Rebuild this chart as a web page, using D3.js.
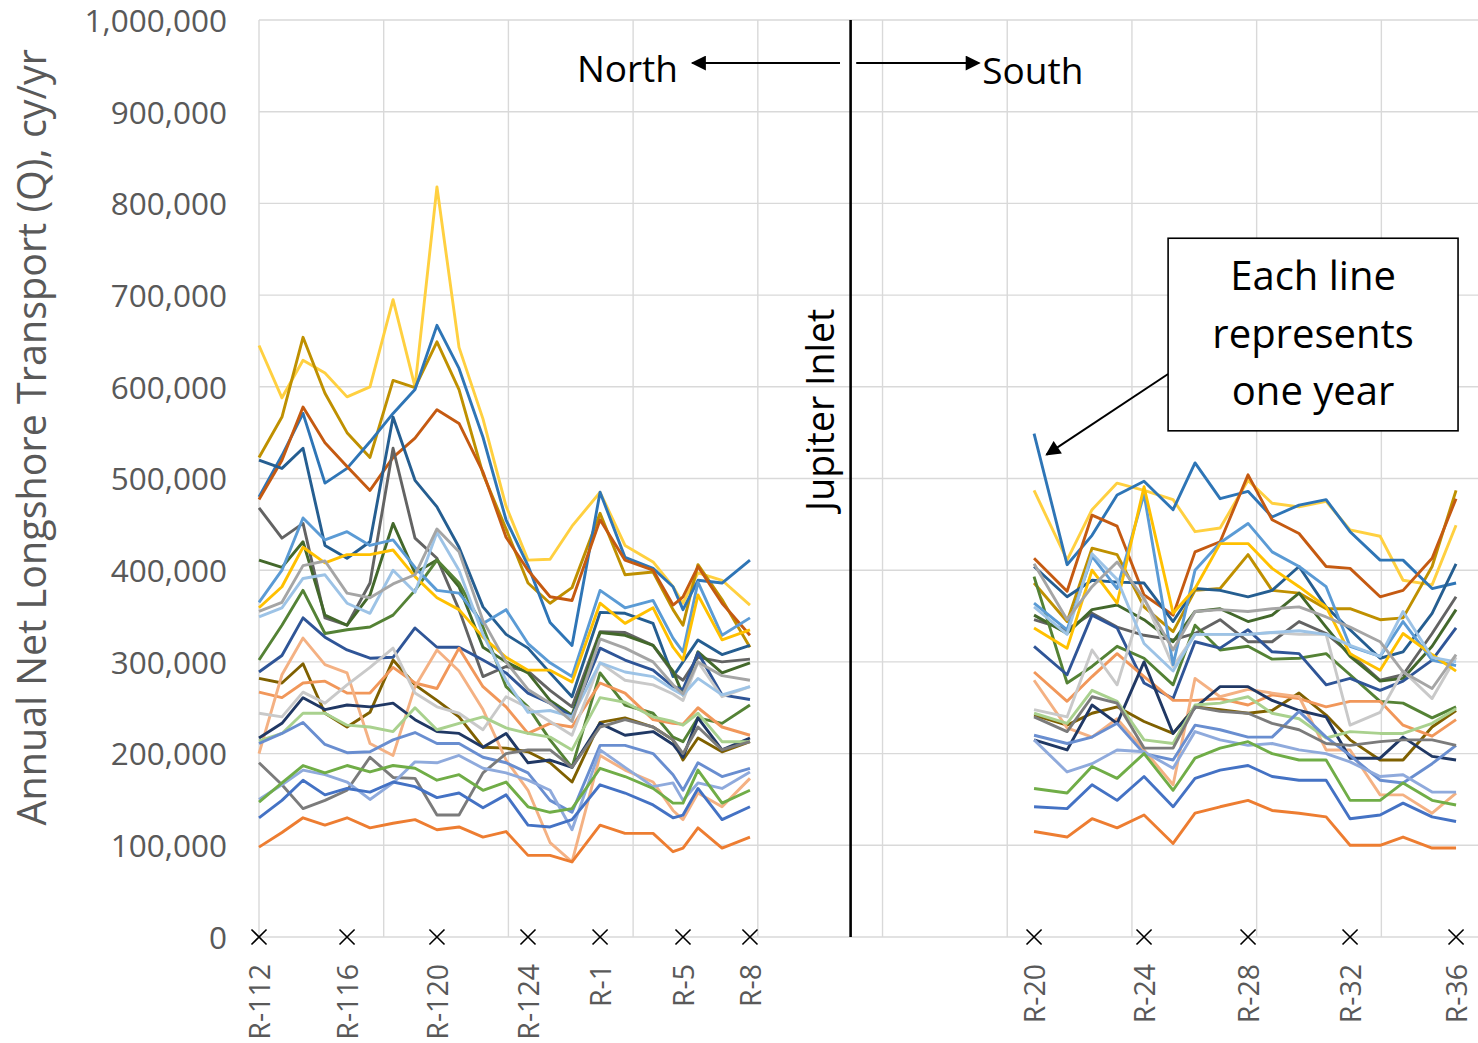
<!DOCTYPE html>
<html>
<head>
<meta charset="utf-8">
<script src="https://cdn.jsdelivr.net/npm/d3@7"></script>
<style>
	body { margin: 0; background: #fff; }
	svg { display: block; font-family: 'Open Sans', sans-serif; }
</style>
</head>
<body>
<svg></svg>
<script>
// monuments north of the inlet and their alongshore position (chart units)
const northStations = ['R-112', 'R-113', 'R-114', 'R-115', 'R-116', 'R-117', 'R-118', 'R-119', 'R-120', 'R-121', 'R-122', 'R-123',
	'R-124', 'R-125', 'R-126', 'R-1', 'R-2', 'R-3', 'R-4', 'R-5', 'R-6', 'R-7', 'R-8']
const northPos = [0, 1.84, 3.53, 5.29, 7.06, 8.9, 10.75, 12.51, 14.27, 16.04, 17.96, 19.81,
	21.57, 23.34, 25.1, 27.35, 29.35, 31.6, 33.2, 34.0, 35.2, 37.13, 39.37]

// monuments south of the inlet
const southStations = ['R-20', 'R-21', 'R-22', 'R-23', 'R-24', 'R-25', 'R-26', 'R-27', 'R-28', 'R-29', 'R-30', 'R-31',
	'R-32', 'R-33', 'R-34', 'R-35', 'R-36']
const southPos = [62.15, 64.8, 66.8, 68.81, 70.97, 73.3, 75.06, 77.07, 79.31, 81.24, 83.4, 85.57,
	87.49, 89.9, 91.74, 94.07, 95.99]

const tickStations = ['R-112', 'R-116', 'R-120', 'R-124', 'R-1', 'R-5', 'R-8', 'R-20', 'R-24', 'R-28', 'R-32', 'R-36']
const inletPos = 47.44

// one line per year, Q in thousand cy/yr
const lineColors = ['#FFD040', '#BF9000', '#2E75B6', '#C55A11', '#255E91', '#636363', '#43682B', '#548235',
	'#2F5597', '#7F6000', '#F1975A', '#F4B183', '#C9C9C9', '#203864', '#A9D18E', '#698ED0', '#7B7B7B',
	'#8FAADC', '#70AD47', '#4472C4', '#ED7D31', '#5B9BD5', '#FFC000', '#9DC3E6', '#A5A5A5']

const northQ = [
	[645, 588, 629, 615, 589, 600, 695, 600, 818, 643, 565, 470, 411, 412, 448, 485, 427, 409, 382, 364, 397, 389, 362],
	[523, 567, 654, 593, 550, 523, 607, 599, 649, 597, 505, 445, 386, 364, 381, 462, 395, 398, 357, 340, 406, 368, 316],
	[480, 525, 571, 495, 511, 540, 571, 597, 667, 620, 545, 455, 405, 343, 318, 485, 414, 402, 382, 357, 389, 386, 411],
	[477, 520, 578, 539, 513, 487, 523, 544, 575, 560, 507, 436, 400, 371, 367, 455, 411, 400, 362, 371, 404, 364, 329],
	[520, 511, 533, 427, 413, 431, 567, 498, 469, 425, 360, 330, 315, 288, 262, 354, 353, 342, 284, 300, 324, 308, 318],
	[468, 435, 451, 348, 340, 386, 533, 435, 413, 357, 284, 295, 290, 269, 251, 333, 332, 318, 288, 280, 305, 300, 303],
	[411, 403, 431, 351, 340, 373, 451, 397, 411, 382, 316, 300, 288, 258, 242, 332, 329, 318, 290, 264, 311, 288, 299],
	[302, 340, 378, 331, 335, 338, 351, 378, 411, 386, 338, 273, 251, 215, 185, 288, 253, 244, 218, 213, 239, 233, 253],
	[289, 307, 348, 327, 313, 304, 305, 337, 316, 316, 302, 288, 266, 255, 240, 315, 302, 291, 273, 270, 310, 264, 259],
	[282, 277, 298, 244, 229, 245, 302, 275, 258, 240, 207, 206, 202, 190, 169, 234, 239, 229, 215, 193, 217, 202, 213],
	[267, 261, 277, 279, 266, 266, 294, 277, 271, 315, 273, 251, 222, 233, 229, 277, 266, 237, 233, 232, 250, 229, 220],
	[200, 286, 326, 297, 288, 211, 198, 273, 313, 290, 248, 193, 160, 103, 82, 198, 182, 169, 138, 128, 157, 142, 173],
	[244, 240, 267, 255, 275, 294, 315, 266, 251, 244, 226, 262, 250, 235, 220, 299, 280, 275, 265, 258, 300, 262, 273],
	[217, 233, 261, 248, 253, 251, 255, 237, 224, 222, 207, 222, 190, 193, 185, 233, 220, 224, 210, 196, 239, 204, 217],
	[214, 222, 244, 244, 231, 229, 224, 250, 226, 233, 240, 228, 222, 218, 204, 261, 256, 240, 235, 231, 244, 213, 213],
	[211, 222, 234, 210, 201, 202, 215, 223, 211, 211, 196, 190, 179, 149, 136, 209, 209, 200, 177, 160, 190, 175, 184],
	[190, 166, 140, 149, 160, 196, 174, 173, 133, 133, 179, 200, 204, 204, 185, 229, 237, 229, 215, 200, 229, 204, 213],
	[150, 166, 182, 177, 169, 150, 168, 191, 190, 198, 184, 179, 171, 160, 117, 204, 185, 164, 168, 149, 168, 162, 180],
	[147, 168, 187, 179, 187, 180, 187, 184, 171, 177, 160, 169, 142, 136, 140, 184, 175, 162, 146, 146, 182, 146, 160],
	[130, 149, 171, 155, 162, 158, 169, 164, 152, 157, 141, 155, 122, 120, 128, 166, 157, 144, 130, 133, 162, 128, 142],
	[98, 114, 130, 122, 130, 119, 124, 128, 117, 120, 109, 115, 89, 89, 82, 122, 113, 113, 93, 97, 119, 97, 109],
	[365, 400, 457, 433, 442, 427, 433, 403, 378, 375, 342, 357, 320, 299, 284, 378, 359, 367, 326, 311, 387, 329, 348],
	[359, 382, 425, 408, 417, 417, 422, 393, 370, 357, 327, 305, 291, 291, 278, 364, 342, 359, 316, 302, 373, 324, 335],
	[349, 359, 391, 395, 364, 353, 400, 376, 441, 400, 330, 280, 245, 247, 240, 299, 289, 284, 270, 264, 282, 264, 273],
	[355, 365, 405, 410, 375, 370, 385, 395, 445, 420, 345, 300, 270, 255, 235, 325, 315, 300, 275, 265, 300, 285, 280]
]

const southQ = [
	[487, 411, 466, 495, 487, 477, 442, 446, 498, 473, 469, 475, 444, 437, 389, 384, 449],
	[386, 344, 424, 417, 360, 333, 378, 380, 417, 378, 375, 358, 358, 346, 348, 404, 487],
	[549, 406, 438, 482, 497, 466, 517, 478, 486, 458, 471, 477, 442, 411, 411, 380, 386],
	[413, 377, 460, 448, 373, 351, 420, 431, 504, 455, 440, 404, 402, 371, 378, 413, 478],
	[404, 371, 389, 387, 386, 344, 380, 378, 371, 378, 404, 360, 335, 304, 311, 353, 407],
	[346, 335, 353, 338, 329, 324, 331, 346, 322, 322, 344, 331, 309, 280, 286, 331, 371],
	[351, 331, 357, 362, 346, 322, 355, 358, 344, 351, 375, 338, 306, 279, 282, 317, 357],
	[393, 277, 295, 317, 304, 275, 340, 313, 317, 303, 304, 309, 286, 257, 255, 239, 251],
	[317, 286, 351, 337, 277, 260, 322, 315, 335, 311, 309, 275, 282, 269, 279, 302, 337],
	[242, 231, 244, 251, 235, 222, 251, 248, 244, 247, 266, 242, 215, 193, 193, 229, 247],
	[289, 257, 284, 309, 284, 258, 258, 260, 253, 264, 260, 251, 257, 257, 231, 219, 237],
	[280, 228, 218, 238, 204, 166, 282, 262, 270, 266, 262, 204, 204, 155, 155, 135, 157],
	[248, 240, 313, 275, 370, 295, 330, 330, 330, 332, 330, 330, 231, 245, 290, 260, 305],
	[215, 204, 253, 233, 300, 222, 250, 273, 273, 258, 247, 240, 195, 195, 218, 197, 193],
	[244, 233, 269, 257, 215, 211, 253, 255, 262, 244, 238, 217, 224, 222, 222, 233, 249],
	[220, 211, 218, 233, 200, 193, 231, 226, 218, 218, 246, 218, 198, 171, 168, 189, 209],
	[240, 224, 262, 255, 206, 206, 251, 246, 244, 233, 226, 211, 209, 213, 215, 215, 209],
	[215, 180, 189, 204, 202, 184, 224, 215, 209, 211, 204, 200, 191, 175, 177, 158, 158],
	[162, 157, 186, 173, 200, 160, 195, 206, 213, 200, 193, 193, 149, 149, 168, 149, 144],
	[142, 140, 166, 149, 175, 142, 173, 182, 187, 175, 171, 171, 129, 133, 146, 131, 126],
	[115, 109, 129, 119, 133, 102, 135, 142, 149, 138, 135, 131, 100, 100, 109, 97, 97],
	[364, 335, 415, 380, 483, 297, 400, 430, 451, 420, 404, 382, 317, 306, 344, 302, 296],
	[337, 315, 400, 364, 491, 353, 380, 429, 429, 402, 382, 360, 309, 291, 331, 308, 290],
	[360, 330, 418, 390, 320, 290, 330, 330, 330, 332, 334, 330, 318, 306, 355, 305, 300],
	[407, 346, 382, 409, 369, 313, 355, 357, 355, 358, 360, 349, 338, 322, 289, 271, 308]
]

function drawTransportChart() {
	const margin = {top: 20, right: 0, bottom: 106, left: 259}
	const fullWidth = 1478
	const fullHeight = 1043
	const width = fullWidth - margin.left - margin.right
	const height = fullHeight - margin.top - margin.bottom

	const svg = d3.select('svg')
		.attr('width', fullWidth)
		.attr('height', fullHeight)

	const g = svg.append('g')
		.attr('transform', `translate(${margin.left}, ${margin.top})`)

	const x = d3.scaleLinear().domain([0, 97.75]).range([0, width])
	const y = d3.scaleLinear().domain([0, 1000]).range([height, 0])

	const axisGrey = '#595959'
	const gridGrey = '#D9D9D9'

	// gridlines
	g.append('g')
		.selectAll('line')
		.data(y.ticks(10))
		.join('line')
			.attr('x1', 0)
			.attr('x2', width)
			.attr('y1', d => y(d))
			.attr('y2', d => y(d))
			.attr('stroke', gridGrey)
			.attr('stroke-width', 1.4)

	g.append('g')
		.selectAll('line')
		.data(d3.range(0, 97.75, 10))
		.join('line')
			.attr('x1', d => x(d))
			.attr('x2', d => x(d))
			.attr('y1', 0)
			.attr('y2', height)
			.attr('stroke', gridGrey)
			.attr('stroke-width', 1.4)

	// y axis labels
	const yAxis = g.append('g')
		.attr('transform', 'translate(-32, 0)')
		.call(d3.axisLeft(y).ticks(10).tickSize(0).tickFormat(d => d3.format(',')(d * 1000)))
	yAxis.select('.domain').remove()
	yAxis.selectAll('text')
		.attr('x', 0)
		.attr('dy', '0.36em')
		.attr('fill', axisGrey)
		.attr('font-size', '31.5px')
		.attr('font-family', 'Open Sans, sans-serif')

	svg.append('text')
		.attr('transform', `translate(46, ${margin.top + y(545)}) rotate(-90)`)
		.attr('text-anchor', 'middle')
		.attr('font-size', '39.5px')
		.attr('fill', axisGrey)
		.text('Annual Net Longshore Transport (Q), cy/yr')

	// yearly lines
	const line = d3.line()
		.x(d => x(d[0]))
		.y(d => y(d[1]))

	const series = []
	northQ.forEach((vals, i) => {
		series.push({color: lineColors[i], pts: vals.map((v, j) => [northPos[j], v])})
		series.push({color: lineColors[i], pts: southQ[i].map((v, j) => [southPos[j], v])})
	})

	g.append('g')
		.attr('fill', 'none')
		.attr('stroke-width', 2.9)
		.attr('stroke-linejoin', 'round')
		.selectAll('path')
		.data(series)
		.join('path')
			.attr('stroke', d => d.color)
			.attr('d', d => line(d.pts))

	// x markers + station labels
	const allStations = northStations.concat(southStations)
	const allPos = northPos.concat(southPos)
	const ticks = tickStations.map(name => ({name, pos: allPos[allStations.indexOf(name)]}))

	g.append('g')
		.selectAll('path')
		.data(ticks)
		.join('path')
			.attr('transform', d => `translate(${x(d.pos)}, ${y(0)})`)
			.attr('d', d3.symbol(d3.symbolX, 150))
			.attr('fill', 'none')
			.attr('stroke', '#000')
			.attr('stroke-width', 1.6)

	g.append('g')
		.selectAll('text')
		.data(ticks)
		.join('text')
			.attr('transform', d => `translate(${x(d.pos) + 11}, ${y(0) + 27}) rotate(-90)`)
			.attr('text-anchor', 'end')
			.attr('font-size', '28.5px')
			.attr('fill', axisGrey)
			.text(d => d.name)

	// inlet divider + labels
	const defs = svg.append('defs')
	defs.append('marker')
		.attr('id', 'head')
		.attr('viewBox', '0 0 10 10')
		.attr('refX', 9)
		.attr('refY', 5)
		.attr('markerUnits', 'userSpaceOnUse')
		.attr('markerWidth', 16)
		.attr('markerHeight', 15)
		.attr('orient', 'auto')
		.append('path')
			.attr('d', 'M0,0L10,5L0,10Z')
			.attr('fill', '#000')

	g.append('line')
		.attr('x1', x(inletPos))
		.attr('x2', x(inletPos))
		.attr('y1', 0)
		.attr('y2', height)
		.attr('stroke', '#000')
		.attr('stroke-width', 2.6)

	g.append('text')
		.attr('transform', `translate(${x(inletPos) - 17}, ${y(575)}) rotate(-90)`)
		.attr('text-anchor', 'middle')
		.attr('font-size', '37.5px')
		.attr('fill', '#000')
		.text('Jupiter Inlet')

	const arrowY = y(953)
	g.append('line')
		.attr('x1', x(inletPos - 0.85))
		.attr('x2', x(34.75))
		.attr('y1', arrowY)
		.attr('y2', arrowY)
		.attr('stroke', '#000')
		.attr('stroke-width', 2)
		.attr('marker-end', 'url(#head)')
	g.append('line')
		.attr('x1', x(inletPos + 0.45))
		.attr('x2', x(57.75))
		.attr('y1', arrowY)
		.attr('y2', arrowY)
		.attr('stroke', '#000')
		.attr('stroke-width', 2)
		.attr('marker-end', 'url(#head)')

	g.append('text')
		.attr('x', x(33.6))
		.attr('y', y(932))
		.attr('text-anchor', 'end')
		.attr('font-size', '37px')
		.text('North')
	g.append('text')
		.attr('x', x(58.0))
		.attr('y', y(930))
		.attr('font-size', '37px')
		.text('South')

	// callout box
	const box = {x0: 72.9, x1: 96.15, top: 762, bottom: 552}
	g.append('line')
		.attr('x1', x(box.x0))
		.attr('y1', y(614))
		.attr('x2', x(63.15))
		.attr('y2', y(526))
		.attr('stroke', '#000')
		.attr('stroke-width', 2)
		.attr('marker-end', 'url(#head)')

	g.append('rect')
		.attr('x', x(box.x0))
		.attr('y', y(box.top))
		.attr('width', x(box.x1) - x(box.x0))
		.attr('height', y(box.bottom) - y(box.top))
		.attr('fill', '#fff')
		.attr('stroke', '#000')
		.attr('stroke-width', 1.6)

	g.append('text')
		.attr('x', x((box.x0 + box.x1) / 2))
		.attr('text-anchor', 'middle')
		.attr('font-size', '40px')
		.selectAll('tspan')
		.data(['Each line', 'represents', 'one year'])
		.join('tspan')
			.attr('x', x((box.x0 + box.x1) / 2))
			.attr('y', (d, i) => y(box.top) + 52 + i * 57.5)
			.text(d => d)
}

drawTransportChart()
</script>
</body>
</html>
